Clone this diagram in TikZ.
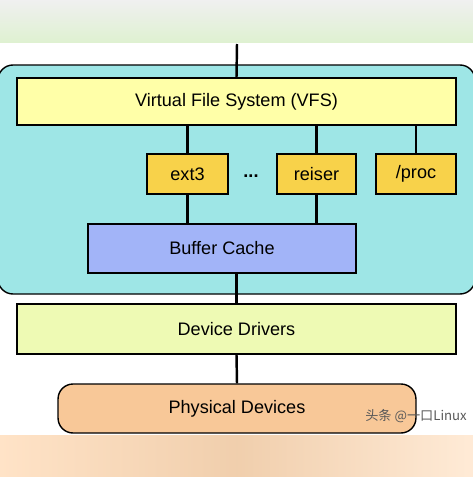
\documentclass[tikz,border=0pt]{standalone}
\usepackage{fontspec}
\setmainfont{Liberation Sans}
\newfontfamily\cjk{Noto Sans CJK SC}
\definecolor{kernelcyan}{HTML}{9EE6E6}
\definecolor{vfsyellow}{HTML}{FFFFA8}
\definecolor{fsgold}{HTML}{F8D24A}
\definecolor{cacheblue}{HTML}{A2B4F8}
\definecolor{drvgreen}{HTML}{EEFAB4}
\definecolor{devpeach}{HTML}{F8C898}
\tikzset{layer/.style={draw, line width=.8pt, font=\fontsize{10.3}{12}\selectfont},
  link/.style={line width=1.4pt}}
\begin{document}
\begin{tikzpicture}[x=.02cm, y=-.02cm]
\useasboundingbox (0,0) rectangle (473,477);
% blurred bands of the screenshot
\shade[top color=gray!12, bottom color=green!40!olive!18] (0,0) rectangle (473,42);
\shade[left color=orange!22, right color=orange!16, middle color=orange!40!brown!38] (0,435) rectangle (473,477);
% kernel area
\draw[fill=kernelcyan, line width=.8pt, rounded corners=.3cm] (-2,65) rectangle (475,294);
\node[layer, fill=vfsyellow, minimum width=8.78cm, minimum height=.94cm] (vfs) at (236.5,101.5) {Virtual File System (VFS)};
\node[layer, fill=fsgold, minimum width=1.62cm, minimum height=.8cm] (ext3) at (187.5,174) {ext3};
\node[font=\fontsize{10.3}{12}\selectfont\bfseries] (dots) at (251,176) {...};
\node[layer, fill=fsgold, minimum width=1.58cm, minimum height=.8cm] (reiser) at (316.5,174) {reiser};
\node[layer, fill=fsgold, minimum width=1.6cm, minimum height=.8cm] (proc) at (416,174) {/proc};
\node[layer, fill=cacheblue, minimum width=5.36cm, minimum height=.98cm] (buffer) at (222,248.5) {Buffer Cache};
\node[layer, fill=drvgreen, minimum width=8.78cm, minimum height=1cm] (drivers) at (236.5,329) {Device Drivers};
\node[layer, fill=devpeach, minimum width=7.16cm, minimum height=.98cm, rounded corners=.3cm] (phys) at (237,408.5) {Physical Devices};
\coordinate (top) at (237,44);
% links
\draw[link] (top) -- (vfs.north);
\foreach \fs in {ext3,reiser,proc}
  \draw[link] (\fs.north |- vfs.south) -- (\fs.north);
\foreach \fs in {ext3,reiser}
  \draw[link] (\fs.south) -- (\fs.south |- buffer.north);
\draw[link] (drivers.north |- buffer.south) -- (drivers.north);
\draw[link] (drivers.south) -- (phys.north);
\node[text=black!65, font=\cjk\fontsize{7.5}{9}\selectfont] (mark) at (416,416) {头条 @一口Linux};
\end{tikzpicture}
\end{document}
